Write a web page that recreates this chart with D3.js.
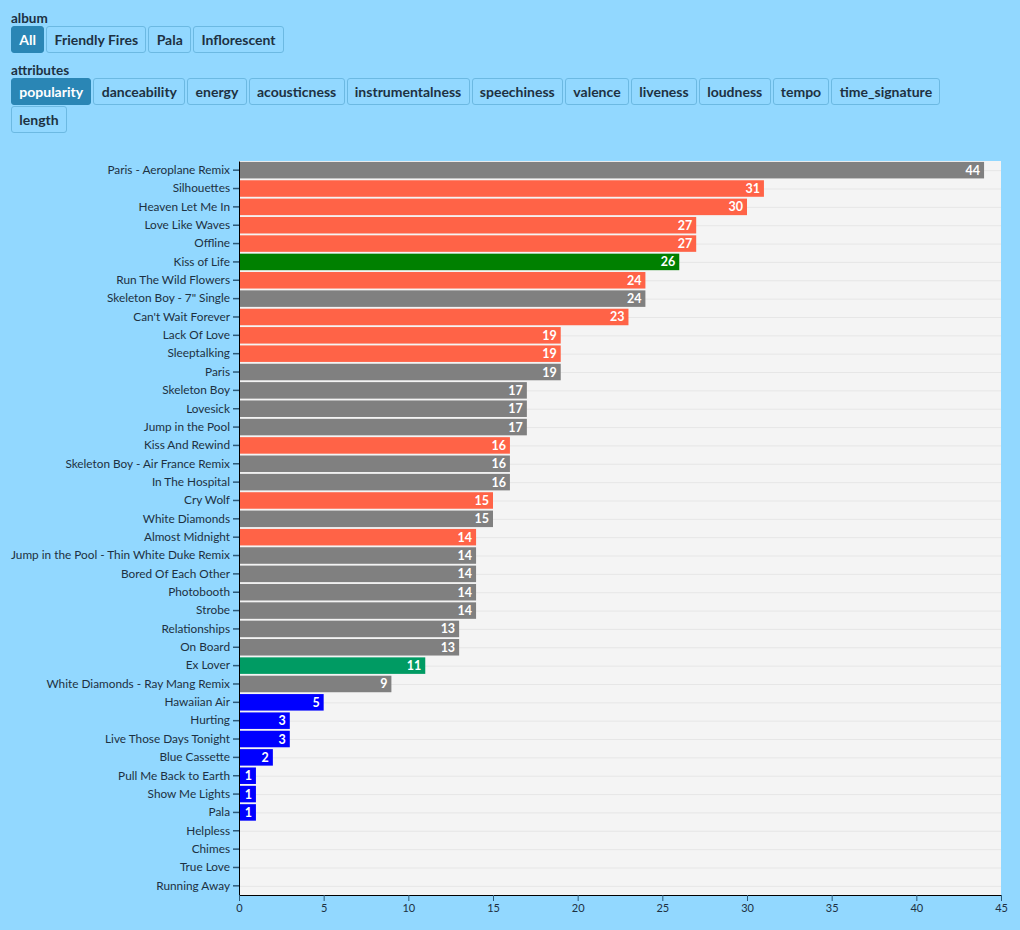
<!DOCTYPE html>
<html>
<head>
<meta charset="utf-8">
<script src="https://cdn.jsdelivr.net/npm/d3@7"></script>
<style>
  html, body { margin: 0; padding: 0; background: #92d8ff; width: 1020px; height: 930px; overflow: hidden; }
  body { font-family: Lato, "Noto Sans", sans-serif; color: #1d3142; }
  .lbl { position: absolute; left: 11px; font-weight: bold; font-size: 13.5px; color: #1d3142; }
  .row { position: absolute; left: 11px; width: 945px; display: flex; flex-wrap: wrap; gap: 1px 2px; }
  .btn { box-sizing: border-box; height: 27px; line-height: 25px; padding: 0 7.3px; border: 1px solid #6cb9e2; border-radius: 3px;
         font-weight: bold; font-size: 14px; color: #1d3142; background: #92d8ff; }
  .btn.sel { background: #2a86b5; color: #fff; border-color: #2a86b5; }
  svg { position: absolute; left: 0; top: 0; }
</style>
</head>
<body>
<div class="lbl" style="top:10px">album</div>
<div class="row" id="albums" style="top:26px"></div>
<div class="lbl" style="top:62px">attributes</div>
<div class="row" id="attrs" style="top:78px"></div>
<svg id="chart" width="1020" height="930"></svg>
<script>
const albumButtons = ["All", "Friendly Fires", "Pala", "Inflorescent"];
const attributeButtons = ["popularity", "danceability", "energy", "acousticness", "instrumentalness", "speechiness", "valence", "liveness", "loudness", "tempo", "time_signature", "length"];

const songs = ["Paris - Aeroplane Remix", "Silhouettes", "Heaven Let Me In", "Love Like Waves", "Offline", "Kiss of Life", "Run The Wild Flowers", "Skeleton Boy - 7\" Single", "Can't Wait Forever", "Lack Of Love", "Sleeptalking", "Paris", "Skeleton Boy", "Lovesick", "Jump in the Pool", "Kiss And Rewind", "Skeleton Boy - Air France Remix", "In The Hospital", "Cry Wolf", "White Diamonds", "Almost Midnight", "Jump in the Pool - Thin White Duke Remix", "Bored Of Each Other", "Photobooth", "Strobe", "Relationships", "On Board", "Ex Lover", "White Diamonds - Ray Mang Remix", "Hawaiian Air", "Hurting", "Live Those Days Tonight", "Blue Cassette", "Pull Me Back to Earth", "Show Me Lights", "Pala", "Helpless", "Chimes", "True Love", "Running Away"];
const popularity = [44, 31, 30, 27, 27, 26, 24, 24, 23, 19, 19, 19, 17, 17, 17, 16, 16, 16, 15, 15, 14, 14, 14, 14, 14, 13, 13, 11, 9, 5, 3, 3, 2, 1, 1, 1, 0, 0, 0, 0];
const groups = ["Friendly Fires", "Inflorescent", "Inflorescent", "Inflorescent", "Inflorescent", "Kiss of Life", "Inflorescent", "Friendly Fires", "Inflorescent", "Inflorescent", "Inflorescent", "Friendly Fires", "Friendly Fires", "Friendly Fires", "Friendly Fires", "Inflorescent", "Friendly Fires", "Friendly Fires", "Inflorescent", "Friendly Fires", "Inflorescent", "Friendly Fires", "Friendly Fires", "Friendly Fires", "Friendly Fires", "Friendly Fires", "Friendly Fires", "Ex Lover", "Friendly Fires", "Pala", "Pala", "Pala", "Pala", "Pala", "Pala", "Pala", "Pala", "Pala", "Pala", "Pala"];
const groupKeys = ["Friendly Fires", "Inflorescent", "Pala", "Kiss of Life", "Ex Lover"];
const groupColors = ["#808080", "#ff6347", "#0000ff", "#008000", "#009b63"];
const xTicks = [0, 5, 10, 15, 20, 25, 30, 35, 40, 45];

d3.select("#albums").selectAll("div").data(albumButtons).join("div")
  .attr("class", (d, i) => "btn" + (i === 0 ? " sel" : "")).text(d => d);
d3.select("#attrs").selectAll("div").data(attributeButtons).join("div")
  .attr("class", (d, i) => "btn" + (i === 0 ? " sel" : "")).text(d => d);

const data = songs.map((s, i) => ({ song: s, value: popularity[i], group: groups[i] }));
const margin = { left: 239, right: 19, top: 161, bottom: 35 };
const W = 1020, H = 930;
const svg = d3.select("#chart");

const x = d3.scaleLinear().domain([0, 45]).range([margin.left, W - margin.right]);
const y = d3.scaleBand().domain(songs).range([margin.top, H - margin.bottom]).paddingInner(0.1).paddingOuter(0.05);
const color = d3.scaleOrdinal().domain(groupKeys).range(groupColors);

svg.append("rect").attr("x", x(0)).attr("y", margin.top)
  .attr("width", x(45) - x(0)).attr("height", H - margin.bottom - margin.top).attr("fill", "#f4f4f4");

svg.append("g").selectAll("line").data(songs).join("line")
  .attr("x1", x(0)).attr("x2", x(45))
  .attr("y1", d => y(d) + y.bandwidth() / 2 + 0.5).attr("y2", d => y(d) + y.bandwidth() / 2 + 0.5)
  .attr("stroke", "#e6e6e6").attr("stroke-width", 1);

svg.append("g").selectAll("rect").data(data).join("rect")
  .attr("x", x(0)).attr("y", d => y(d.song))
  .attr("width", d => x(d.value) - x(0)).attr("height", y.bandwidth())
  .attr("fill", d => color(d.group));

svg.append("g").selectAll("text").data(data.filter(d => d.value > 0)).join("text")
  .attr("x", d => x(d.value) - 4).attr("y", d => y(d.song) + y.bandwidth() / 2)
  .attr("dy", "0.36em").attr("text-anchor", "end")
  .attr("fill", "#fff").attr("font-weight", "bold").attr("font-size", 12.5)
  .attr("font-family", "Lato, sans-serif").text(d => d.value);

const yAxis = svg.append("g").attr("transform", `translate(${x(0)},0)`)
  .call(d3.axisLeft(y).tickSize(6).tickSizeOuter(0));
yAxis.selectAll("text").attr("font-size", 11.8).attr("font-family", "Lato, sans-serif").attr("fill", "#1d3142");
yAxis.selectAll(".tick line").attr("stroke", "#2d5a78").attr("stroke-width", 1.5);
yAxis.select(".domain").attr("stroke", "#000");

const xAxis = svg.append("g").attr("transform", `translate(0,${H - margin.bottom})`)
  .call(d3.axisBottom(x).tickValues(xTicks).tickSize(6).tickSizeOuter(0));
xAxis.selectAll("text").attr("font-size", 11).attr("font-family", "Lato, sans-serif").attr("fill", "#1d3142");
xAxis.selectAll(".tick line").attr("stroke", "#2d5a78");
xAxis.select(".domain").attr("stroke", "#000");
</script>
</body>
</html>
